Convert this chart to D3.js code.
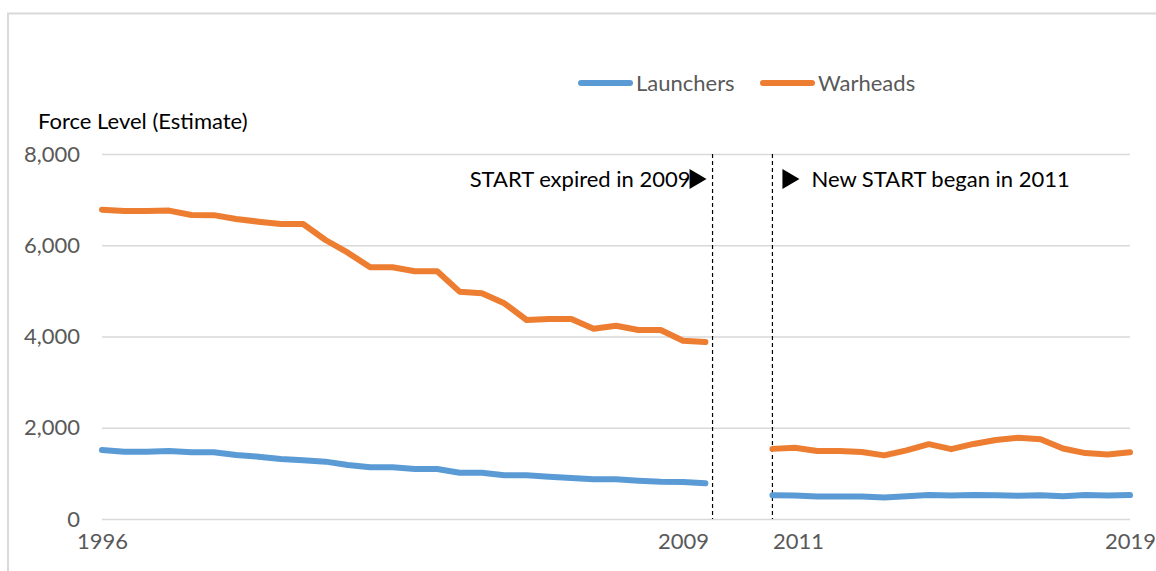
<!DOCTYPE html>
<html><head><meta charset="utf-8">
<script src="https://cdn.jsdelivr.net/npm/d3@7"></script>
<style>
body{margin:0;background:#fff;overflow:hidden}
text{font-family:Lato, "Open Sans", sans-serif}
</style>
</head><body>
<svg id="chart" width="1156" height="571"></svg>
<script>
// ---- data ----
const periodsBefore = [1996,1996.5,1997,1997.5,1998,1998.5,1999,1999.5,2000,2000.5,2001,2001.5,2002,2002.5,2003,2003.5,2004,2004.5,2005,2005.5,2006,2006.5,2007,2007.5,2008,2008.5,2009,2009.5];
const launchersBefore = [1512,1476,1476,1490,1461,1461,1403,1366,1315,1286,1257,1184,1133,1133,1096,1096,1015,1015,957,957,928,899,870,870,840,818,811,782];
const warheadsBefore  = [6780,6750,6750,6760,6663,6660,6576,6517,6466,6466,6115,5838,5517,5517,5430,5430,4983,4947,4728,4362,4384,4384,4172,4237,4143,4143,3908,3880];
const periodsAfter = [2011,2011.5,2012,2012.5,2013,2013.5,2014,2014.5,2015,2015.5,2016,2016.5,2017,2017.5,2018,2018.5,2019];
const launchersAfter = [521,516,494,491,492,473,498,528,515,526,521,508,523,501,527,517,524];
const warheadsAfter  = [1537,1560,1492,1492,1470,1395,1505,1640,1530,1645,1730,1780,1750,1545,1444,1415,1461];
const yTicks = [0,2000,4000,6000,8000];
const xTickYears = [1996,2009,2011,2019];
const seriesNames = ["Launchers","Warheads"];
const yAxisTitle = "Force Level (Estimate)";
const markerYears = [2009.66, 2011];
const markerTexts = ["START expired in 2009", "New START began in 2011"];

(function(){
// ---- layout ----
const svg = d3.select("#chart");
const pLeft = 102, pRight = 1130, pTop = 154, pBottom = 519;
const colors = {Launchers:"#5B9BD5", Warheads:"#ED7D31"};
const gray = "#595959";

const x = d3.scaleLinear().domain([1996, 2019]).range([pLeft, pRight]);
const y = d3.scaleLinear().domain([0, 8000]).range([pBottom, pTop]);

// frame
svg.append("rect").attr("x",8).attr("y",13.5).attr("width",1300).attr("height",700)
  .attr("fill","none").attr("stroke","#d9d9d9").attr("stroke-width",2);

// gridlines + y labels via axis
const yAxis = d3.axisLeft(y).tickValues(yTicks).tickFormat(d3.format(",")).tickSize(-(pRight-pLeft)).tickPadding(22);
const gy = svg.append("g").attr("transform",`translate(${pLeft},0)`).call(yAxis);
gy.select(".domain").remove();
gy.selectAll(".tick line").attr("stroke","#d9d9d9").attr("stroke-width",1.5);
gy.selectAll(".tick text").attr("fill",gray).style("font-size","22px").attr("font-family","Lato");

// x labels
const xAxis = d3.axisBottom(x).tickValues(xTickYears).tickFormat(d3.format("d")).tickSize(0).tickPadding(14);
const gx = svg.append("g").attr("transform",`translate(0,${pBottom})`).call(xAxis);
gx.select(".domain").remove();
gx.selectAll(".tick text").attr("fill",gray).style("font-size","22px").attr("font-family","Lato")
  .attr("text-anchor", d => d === 2011 ? "start" : "middle");

// y axis title
svg.append("text").attr("x",38).attr("y",121).attr("dy","0.35em")
  .style("font-size","22px").attr("fill","#000").text(yAxisTitle);

// dashed markers
svg.selectAll(".marker").data(markerYears).join("line").attr("class","marker")
  .attr("x1",d=>x(d)).attr("x2",d=>x(d)).attr("y1",pTop).attr("y2",pBottom)
  .attr("stroke","#000").attr("stroke-width",1.2).attr("stroke-dasharray","4,3");

// lines
const line = d3.line().x(d=>x(d[0])).y(d=>y(d[1]));
const segments = [
  {name:"Launchers", pts: d3.zip(periodsBefore, launchersBefore)},
  {name:"Warheads", pts: d3.zip(periodsBefore, warheadsBefore)},
  {name:"Launchers", pts: d3.zip(periodsAfter, launchersAfter)},
  {name:"Warheads", pts: d3.zip(periodsAfter, warheadsAfter)}
];
svg.selectAll(".series").data(segments).join("path").attr("class","series")
  .attr("d", d=>line(d.pts)).attr("fill","none").attr("stroke",d=>colors[d.name])
  .attr("stroke-width",6).attr("stroke-linejoin","round").attr("stroke-linecap","round");

// annotations
const annY = 179;
svg.append("text").attr("x", x(markerYears[0]) - 22).attr("y", annY).attr("dy","0.35em")
  .attr("text-anchor","end").style("font-size","22px").attr("fill","#000").text(markerTexts[0]);
svg.append("path").attr("d", `M${x(markerYears[0])-23},${annY-10} L${x(markerYears[0])-6},${annY} L${x(markerYears[0])-23},${annY+10} Z`).attr("fill","#000");
svg.append("path").attr("d", `M${x(markerYears[1])+10},${annY-10} L${x(markerYears[1])+27},${annY} L${x(markerYears[1])+10},${annY+10} Z`).attr("fill","#000");
svg.append("text").attr("x", x(markerYears[1]) + 39).attr("y", annY).attr("dy","0.35em")
  .attr("text-anchor","start").style("font-size","22px").attr("fill","#000").text(markerTexts[1]);

// legend
const legX = [578, 760];
const lg = svg.selectAll(".leg").data(seriesNames).join("g").attr("class","leg")
  .attr("transform",(d,i)=>`translate(${legX[i]},83)`);
lg.append("line").attr("x1",3).attr("x2",52).attr("y1",0).attr("y2",0)
  .attr("stroke",d=>colors[d]).attr("stroke-width",6).attr("stroke-linecap","round");
lg.append("text").attr("x",58).attr("dy","0.35em").style("font-size","22px").attr("fill",gray).text(d=>d);
})();
</script>
</body></html>
